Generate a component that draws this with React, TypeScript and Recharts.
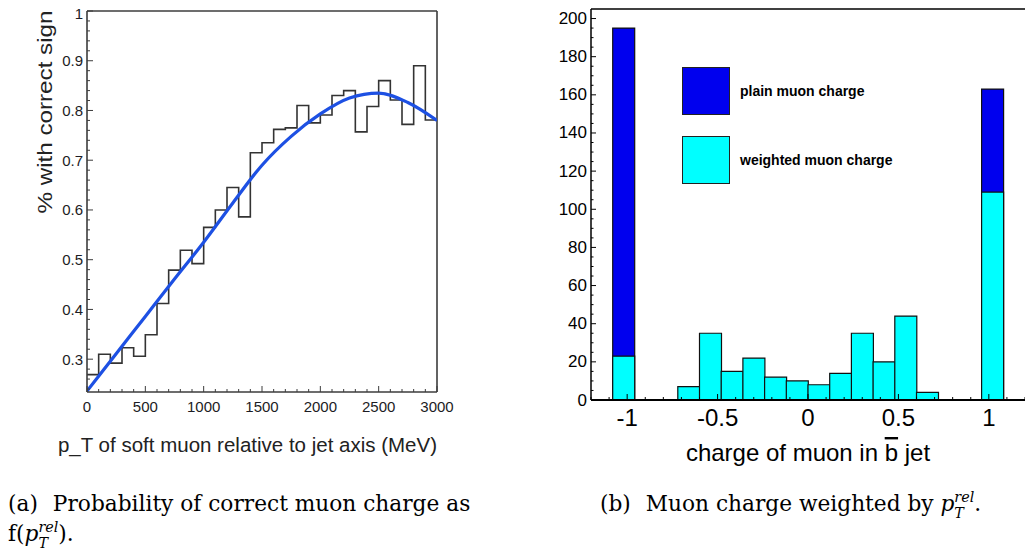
import React from "react";
import {
  ComposedChart,
  Bar,
  Line,
  XAxis,
  YAxis,
  ReferenceLine,
  Legend,
} from "recharts";

// (a) fraction of correct sign vs p_T rel, 100 MeV bins
const PT_BIN_START = [
  0, 100, 200, 300, 400, 500, 600, 700, 800, 900, 1000, 1100, 1200, 1300, 1400,
  1500, 1600, 1700, 1800, 1900, 2000, 2100, 2200, 2300, 2400, 2500, 2600, 2700,
  2800, 2900,
];
const PT_FRACTION = [
  0.269, 0.31, 0.292, 0.323, 0.306, 0.349, 0.412, 0.479, 0.519, 0.492, 0.565,
  0.6, 0.645, 0.586, 0.715, 0.735, 0.762, 0.765, 0.81, 0.775, 0.791, 0.83, 0.84,
  0.757, 0.808, 0.86, 0.821, 0.772, 0.89, 0.781,
];
const PT_MAX = 3000;

// fitted curve
const FIT_PT = [0, 250, 500, 750, 1000, 1250, 1500, 1750, 2000, 2250, 2500, 2750, 3000];
const FIT_FRACTION = [
  0.236, 0.311, 0.386, 0.461, 0.535, 0.614, 0.69, 0.748, 0.793, 0.825, 0.835,
  0.816, 0.78,
];

const PT_TICKS = [0, 500, 1000, 1500, 2000, 2500, 3000];
const FRAC_TICKS = [0.3, 0.4, 0.5, 0.6, 0.7, 0.8, 0.9, 1];

// (b) muon charge, 0.12 wide bins from -1.2 to 1.2
const CHARGE_BIN_CENTER = [
  -1.14, -1.02, -0.9, -0.78, -0.66, -0.54, -0.42, -0.3, -0.18, -0.06, 0.06, 0.18,
  0.3, 0.42, 0.54, 0.66, 0.78, 0.9, 1.02, 1.14,
];
const PLAIN_COUNTS = [
  null, 195, null, null, null, null, null, null, null, null, null, null, null,
  null, null, null, null, null, 163, null,
];
const WEIGHTED_COUNTS = [
  null, 23, null, null, 7, 35, 15, 22, 12, 10, 8, 14, 35, 20, 44, 4, null, null,
  109, null,
];
const CHARGE_TICKS = [-1, -0.5, 0, 0.5, 1];
const COUNT_TICKS = [0, 20, 40, 60, 80, 100, 120, 140, 160, 180, 200];

const FRAME = "#3c3c3c";
const FIT_BLUE = "#1d50e3";
const PLAIN_BLUE = "#0000ee";
const CYAN = "#00ffff";
const SANS = '"Liberation Sans", Arial, sans-serif';

const histRows = [
  ...PT_BIN_START.map((x, i) => ({ x, p: PT_FRACTION[i] })),
  { x: PT_MAX, p: PT_FRACTION[PT_FRACTION.length - 1] },
];
const fitRows = FIT_PT.map((x, i) => ({ x, p: FIT_FRACTION[i] }));

const chargeRows = CHARGE_BIN_CENTER.map((c, i) => ({
  bin: c,
  plain: PLAIN_COUNTS[i],
  weighted: WEIGHTED_COUNTS[i],
}));

const round = (v: number, d: number) => Math.round(v * 10 ** d) / 10 ** d;
const ptMinor = Array.from({ length: 31 }, (_, i) => i * 100);
const fracMinor = Array.from({ length: 39 }, (_, i) => round(0.24 + i * 0.02, 2));
const chargeMinor = Array.from({ length: 25 }, (_, i) => round(-1.2 + i * 0.1, 1));
const countMinor = Array.from({ length: 41 }, (_, i) => i * 5);

function PtTick({ x, y, payload }: any) {
  const v = payload.value;
  const major = PT_TICKS.includes(v);
  const axisY = y - 4;
  return (
    <g>
      <line x1={x} x2={x} y1={axisY} y2={axisY - (major ? 6 : 3)} stroke={FRAME} />
      {major && (
        <text x={x} y={axisY + 14} textAnchor="middle" dominantBaseline="central"
          fontSize={15} fontFamily={SANS} fill="#1c1c24">
          {v}
        </text>
      )}
    </g>
  );
}

function FracTick({ x, y, payload }: any) {
  const v = payload.value;
  const major = FRAC_TICKS.some((t) => Math.abs(t - v) < 1e-6);
  const axisX = x + 4;
  return (
    <g>
      <line x1={axisX} x2={axisX + (major ? 6 : 3)} y1={y} y2={y} stroke={FRAME} />
      {major && (
        <text x={x} y={v === 1 ? y + 2 : y} textAnchor="end" dominantBaseline="central"
          fontSize={15} fontFamily={SANS} fill="#1c1c24">
          {v}
        </text>
      )}
    </g>
  );
}

function ChargeTick({ x, y, payload }: any) {
  const v = payload.value;
  const major = CHARGE_TICKS.some((t) => Math.abs(t - v) < 1e-6);
  const axisY = y - 4;
  return (
    <g>
      <line x1={x} x2={x} y1={axisY} y2={axisY - (major ? 6 : 3)} stroke="#000" />
      {major && (
        <text x={x} y={axisY + 17} textAnchor="middle" dominantBaseline="central"
          fontSize={24} fontFamily={SANS} fill="#000">
          {v}
        </text>
      )}
    </g>
  );
}

function CountTick({ x, y, payload }: any) {
  const v = payload.value;
  const major = COUNT_TICKS.includes(v);
  const axisX = x + 4;
  return (
    <g>
      <line x1={axisX} x2={axisX + (major ? 5 : 2.5)} y1={y} y2={y} stroke="#000" />
      {major && (
        <text x={x} y={y} textAnchor="end" dominantBaseline="central"
          fontSize={17} fontFamily={SANS} fill="#000">
          {v}
        </text>
      )}
    </g>
  );
}

function ChargeLegend({ payload }: any) {
  const colors: Record<string, string> = { plain: PLAIN_BLUE, weighted: CYAN };
  return (
    <div style={{ display: "flex", flexDirection: "column", gap: 21 }}>
      {(payload || []).map((item: any) => (
        <div key={item.value} style={{ display: "flex", alignItems: "center" }}>
          <span
            style={{
              width: 48,
              height: 48,
              boxSizing: "border-box",
              border: "1.5px solid #222",
              background: colors[item.dataKey] || item.color,
            }}
          />
          <span
            style={{
              marginLeft: 10,
              fontFamily: SANS,
              fontWeight: 700,
              fontSize: 14,
              color: "#000",
              whiteSpace: "nowrap",
            }}
          >
            {item.value}
          </span>
        </div>
      ))}
    </div>
  );
}

function PtRel() {
  return (
    <span style={{ whiteSpace: "nowrap" }}>
      <i>p</i>
      <span
        style={{
          display: "inline-block",
          verticalAlign: "-0.5em",
          fontSize: "0.66em",
          lineHeight: 1.15,
          fontStyle: "italic",
        }}
      >
        <span style={{ display: "block" }}>rel</span>
        <span style={{ display: "block" }}>T</span>
      </span>
    </span>
  );
}

const ptTitle = () => (
  <text x={437} y={452} textAnchor="end" fontSize={20.5} fontFamily={SANS} fill="#222">
    p_T of soft muon relative to jet axis (MeV)
  </text>
);

const fracTitle = () => (
  <text
    x={44}
    y={112}
    transform="rotate(-90, 44, 112)"
    textAnchor="middle"
    dominantBaseline="central"
    fontSize={21}
    fontFamily={SANS}
    fill="#222"
    textLength={203}
    lengthAdjust="spacingAndGlyphs"
  >
    % with correct sign
  </text>
);

const chargeTitle = () => (
  <text x={288} y={461} textAnchor="middle" fontSize={24} fontFamily={SANS} fill="#000">
    charge of muon in <tspan style={{ textDecoration: "overline" }}>b</tspan> jet
  </text>
);

function FractionChart() {
  return (
    <ComposedChart width={460} height={470} margin={{ top: 11, right: 23, left: 27, bottom: 0 }}>
      <XAxis
        type="number"
        dataKey="x"
        domain={[0, PT_MAX]}
        allowDataOverflow
        ticks={ptMinor}
        interval={0}
        tickSize={0}
        tickMargin={4}
        tick={PtTick}
        height={78}
        axisLine={{ stroke: FRAME, strokeWidth: 1.6 }}
        label={{ content: ptTitle }}
      />
      <YAxis
        type="number"
        domain={[0.234, 1]}
        allowDataOverflow
        ticks={fracMinor}
        interval={0}
        tickSize={0}
        tickMargin={4}
        tick={FracTick}
        width={60}
        axisLine={{ stroke: FRAME, strokeWidth: 1.6 }}
        label={{ content: fracTitle }}
      />
      <ReferenceLine y={1} stroke={FRAME} strokeWidth={1.6} />
      <ReferenceLine x={PT_MAX} stroke={FRAME} strokeWidth={1.6} />
      <Line
        data={histRows}
        dataKey="p"
        type="stepAfter"
        stroke="#333"
        strokeWidth={1.6}
        dot={false}
        isAnimationActive={false}
      />
      <Line
        data={fitRows}
        dataKey="p"
        type="monotone"
        stroke={FIT_BLUE}
        strokeWidth={3.2}
        dot={false}
        isAnimationActive={false}
      />
    </ComposedChart>
  );
}

function ChargeChart() {
  return (
    <ComposedChart
      width={505}
      height={480}
      data={chargeRows}
      margin={{ top: 9, right: 0, left: 11, bottom: 0 }}
      barCategoryGap={0}
      barGap={0}
    >
      <XAxis
        xAxisId="q"
        type="number"
        dataKey="bin"
        domain={[-1.2, 1.2]}
        allowDataOverflow
        ticks={chargeMinor}
        interval={0}
        tickSize={0}
        tickMargin={4}
        tick={ChargeTick}
        height={80}
        axisLine={{ stroke: "#000", strokeWidth: 2 }}
        label={{ content: chargeTitle }}
      />
      <XAxis xAxisId="plain" dataKey="bin" hide height={0} />
      <XAxis xAxisId="weighted" dataKey="bin" hide height={0} />
      <YAxis
        type="number"
        domain={[0, 205]}
        allowDataOverflow
        ticks={countMinor}
        interval={0}
        tickSize={0}
        tickMargin={4}
        tick={CountTick}
        width={60}
        axisLine={{ stroke: "#000", strokeWidth: 1.5 }}
      />
      <ReferenceLine xAxisId="q" y={205} stroke="#000" strokeWidth={1.5} />
      <Bar
        xAxisId="plain"
        dataKey="plain"
        name="plain muon charge"
        fill={PLAIN_BLUE}
        stroke="#111"
        strokeWidth={1.2}
        isAnimationActive={false}
      />
      <Bar
        xAxisId="weighted"
        dataKey="weighted"
        name="weighted muon charge"
        fill={CYAN}
        stroke="#111"
        strokeWidth={1.2}
        isAnimationActive={false}
      />
      <Legend
        layout="vertical"
        align="center"
        verticalAlign="middle"
        content={ChargeLegend}
        wrapperStyle={{ left: 162, top: 67, width: 260 }}
      />
    </ComposedChart>
  );
}

export default function App() {
  const caption: React.CSSProperties = {
    position: "absolute",
    top: 489,
    fontFamily: '"DejaVu Serif", serif',
    fontSize: 21.7,
    lineHeight: "30px",
    color: "#000",
    whiteSpace: "nowrap",
  };
  return (
    <div style={{ position: "absolute", left: 0, top: 0, width: 1025, height: 556, background: "#fff", overflow: "hidden" }}>
      <div style={{ position: "absolute", left: 0, top: 0 }}>
        <FractionChart />
      </div>
      <div style={{ position: "absolute", left: 520, top: 0 }}>
        <ChargeChart />
      </div>
      <div style={{ ...caption, left: 8 }}>
        <span style={{ marginRight: 15 }}>(a)</span>Probability of correct muon charge as
        <br />
        f(<PtRel />).
      </div>
      <div style={{ ...caption, left: 600 }}>
        <span style={{ marginRight: 15 }}>(b)</span>Muon charge weighted by <PtRel />.
      </div>
    </div>
  );
}
